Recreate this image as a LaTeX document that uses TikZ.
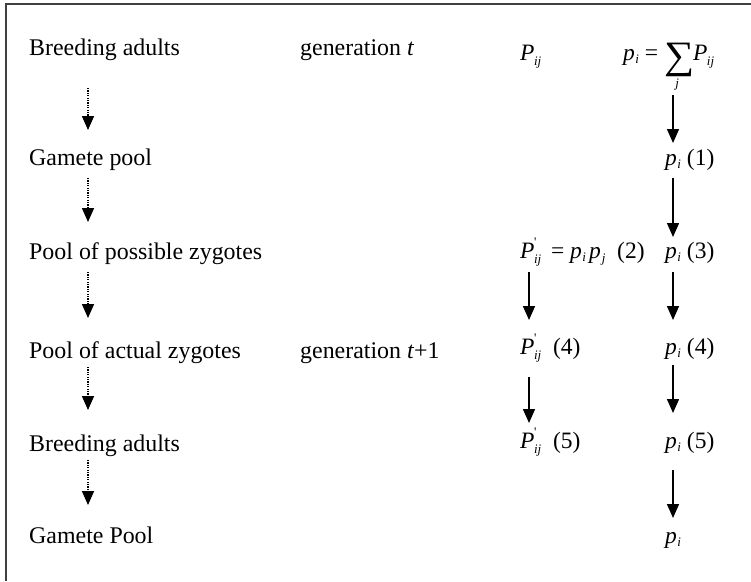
\documentclass[tikz,border=0pt]{standalone}
\usepackage{fontspec}
\setmainfont{Liberation Serif}
\usetikzlibrary{arrows.meta,calc}
\newcommand{\smallsub}[1]{{\fontsize{13}{13}\selectfont\textit{#1}}}
\newcommand{\Pij}{\textit{P}\kern-0.5pt\raisebox{-5pt}{\smallsub{ij}}}
\newcommand{\Ppij}{\textit{P}\kern-0.5pt\rlap{\raisebox{12pt}{\fontsize{13}{13}\selectfont\textquotesingle}}\raisebox{-5pt}{\smallsub{ij}}}
\newcommand{\pii}{\textit{p}\kern0.5pt\raisebox{-3pt}{\smallsub{i}}}
\newcommand{\pjj}{\textit{p}\kern1pt\raisebox{-4pt}{\smallsub{j}}}
\newcommand{\bigsum}{\rlap{\raisebox{-8pt}{\scalebox{1.8}[1.65]{∑}}}\makebox[26pt]{\raisebox{-27pt}{\smallsub{j}}}}
\begin{document}
\begin{tikzpicture}[x=1pt,y=1pt,
  every node/.style={inner sep=0pt, anchor=base west},
  txt/.style={font=\fontsize{23.9}{28}\selectfont},
  mth/.style={font=\fontsize{23.5}{27}\selectfont},
  dotarrow/.style={line width=1.6pt, dash pattern=on 1.2pt off 1.2pt, -{Triangle[width=12pt,length=14pt]}},
  solarrow/.style={line width=1.5pt, -{Triangle[width=12pt,length=14pt]}},
  frameline/.style={line width=1.3pt, draw=black!75}]
\useasboundingbox (0,0) rectangle (751,-581);
\draw[frameline] (6,-581) -- (6,-4) -- (751,-4);
% left column
\node[txt] (t1) at (29,-55) {Breeding adults};
\node[txt] (t2) at (29,-165) {Gamete pool};
\node[txt] (t3) at (29,-259) {Pool of possible zygotes};
\node[txt] (t4) at (29,-358) {Pool of actual zygotes};
\node[txt] (t5) at (29,-451) {Breeding adults};
\node[txt] (t6) at (29,-543) {Gamete Pool};
% generation column
\node[txt] (g1) at (300,-55) {generation \textit{t}};
\node[txt] (g4) at (300,-358) {generation \textit{t}+1};
% math columns
\node[mth] (m1) at (520,-60) {\Pij};
\node[mth] (s1) at (623,-60) {\pii\ = \bigsum\kern3pt\Pij};
\node[mth] (r2) at (665,-165) {\pii\ (1)};
\node[mth] (m3) at (520,-258) {\Ppij\ \,= \pii\kern3pt\pjj\ \ (2)};
\node[mth] (r3) at (665,-258) {\pii\ (3)};
\node[mth] (m4) at (520,-354) {\Ppij\ \ (4)};
\node[mth] (r4) at (665,-354) {\pii\ (4)};
\node[mth] (m5) at (520,-448) {\Ppij\ \ (5)};
\node[mth] (r5) at (665,-448) {\pii\ (5)};
\node[mth] (r6) at (665,-543) {\pii};
% dotted arrows
\draw[dotarrow] ($(t1.base west)+(59,-33)$) -- ($(t2.base west)+(59,35)$);
\draw[dotarrow] ($(t2.base west)+(59,-13)$) -- ($(t3.base west)+(59,37)$);
\draw[dotarrow] ($(t3.base west)+(59,-13)$) -- ($(t4.base west)+(59,40)$);
\draw[dotarrow] ($(t4.base west)+(59,-9)$) -- ($(t5.base west)+(59,41)$);
\draw[dotarrow] ($(t5.base west)+(59,-9)$) -- ($(t6.base west)+(59,38)$);
% right column arrows
\draw[solarrow] ($(r2.base west)+(8,70)$) -- ($(r2.base west)+(8,22)$);
\draw[solarrow] ($(r2.base west)+(8,-13)$) -- ($(r3.base west)+(8,21)$);
\draw[solarrow] ($(r3.base west)+(8,-14)$) -- ($(r4.base west)+(8,34)$);
\draw[solarrow] ($(r4.base west)+(8,-11)$) -- ($(r5.base west)+(8,35)$);
\draw[solarrow] ($(r5.base west)+(8,-22)$) -- ($(r6.base west)+(8,25)$);
% middle column arrows
\draw[solarrow] ($(m3.base west)+(9,-14)$) -- ($(m4.base west)+(9,34)$);
\draw[solarrow] ($(m4.base west)+(9,-23)$) -- ($(m5.base west)+(9,25)$);
\end{tikzpicture}
\end{document}
